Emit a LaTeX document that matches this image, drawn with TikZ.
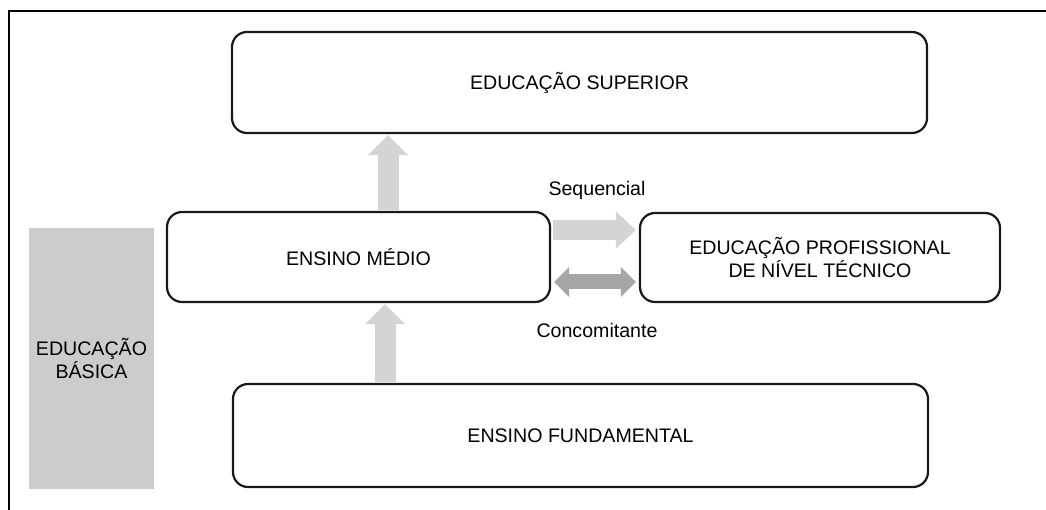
\documentclass[tikz,border=0pt]{standalone}
\usepackage{fontspec}
\setmainfont{Liberation Sans}
\usetikzlibrary{arrows.meta}

\begin{document}
\begin{tikzpicture}[
  x=1pt, y=-1pt,
  every node/.style = {font=\fontsize{19.6}{23}\selectfont},
  levelbox/.style   = {draw=black!90, line width=2.2pt, rounded corners=15pt,
                       fill=white, inner sep=0pt, align=center},
  fatup/.style      = {draw=black!17, line width=21pt,
                       -{Triangle[width=39pt, length=20pt]}},
  fatseq/.style     = {draw=black!17, line width=20pt,
                       -{Triangle[width=36pt, length=20pt]}},
  fatboth/.style    = {draw=black!35, line width=15pt,
                       {Triangle[width=29pt, length=15pt]}-{Triangle[width=29pt, length=15pt]}},
]
\useasboundingbox (0,0) rectangle (1046,510);

% ── Frame ───────────────────────────────────────────────────────────────────
\draw[line width=1.5pt] (9,510) -- (9,11) -- (1046,11);

% ── Levels ──────────────────────────────────────────────────────────────────
\node[levelbox, minimum width=695pt, minimum height=101pt] (superior)
  at (579.5,82.5) {EDUCAÇÃO SUPERIOR};
\node[levelbox, minimum width=383pt, minimum height=90pt] (medio)
  at (358.5,257) {ENSINO MÉDIO};
\node[levelbox, minimum width=360pt, minimum height=89pt] (profissional)
  at (820,257.5) {EDUCAÇÃO PROFISSIONAL\\DE NÍVEL TÉCNICO};
\node[levelbox, minimum width=695pt, minimum height=103pt] (fundamental)
  at (580.5,435.5) {ENSINO FUNDAMENTAL};

% ── Educação básica bar ─────────────────────────────────────────────────────
\node[fill=black!20, minimum width=125pt, minimum height=261pt,
      inner sep=0pt, align=center] (basica)
  at (91.5,358.5) {EDUCAÇÃO\\BÁSICA};

% ── Arrows ──────────────────────────────────────────────────────────────────
\draw[fatup, shorten <=1pt, shorten >=1pt]
  ([xshift=29.5pt]medio.north) -- ([xshift=29.5pt]medio.north |- superior.south);
\draw[fatup, shorten <=1pt, shorten >=1pt]
  ([xshift=26.5pt]medio.south |- fundamental.north) -- ([xshift=26.5pt]medio.south);
\draw[fatseq, shorten <=2pt, shorten >=3pt]
  ([yshift=27pt]medio.east) -- ([yshift=27pt]medio.east -| profissional.west);
\draw[fatboth, shorten <=3pt, shorten >=3pt]
  ([yshift=-25pt]medio.east) -- ([yshift=-25pt]medio.east -| profissional.west);

% ── Labels ──────────────────────────────────────────────────────────────────
\node (seqlabel) at (597,190) {Sequencial};
\node (conclabel) at (597,330) {Concomitante};

\end{tikzpicture}
\end{document}
